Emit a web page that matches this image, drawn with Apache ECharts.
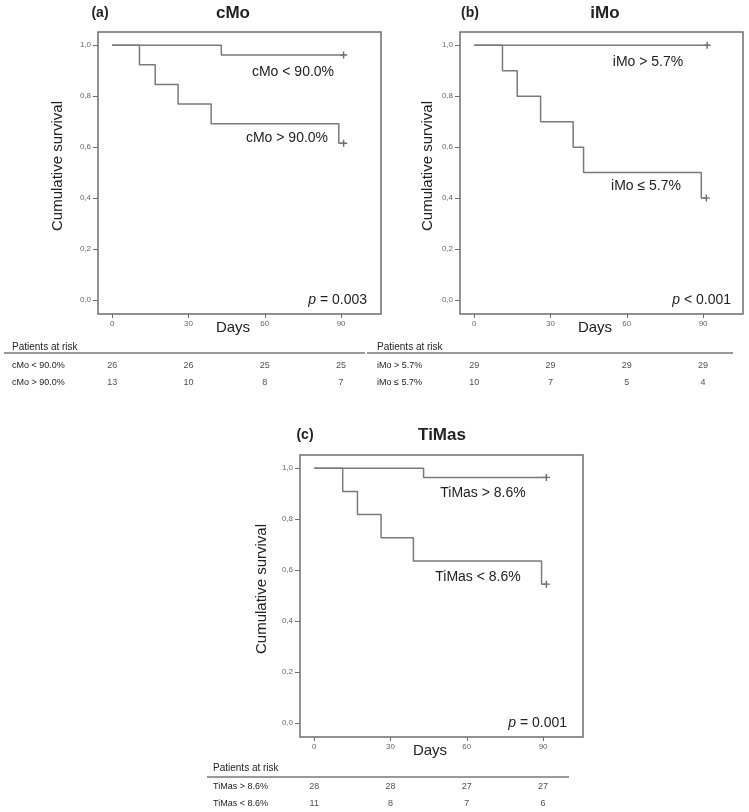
<!DOCTYPE html>
<html><head><meta charset="utf-8">
<script src="https://cdn.jsdelivr.net/npm/echarts@6/dist/echarts.min.js"></script>
<style>html,body{margin:0;padding:0;background:#fff}#c{width:749px;height:812px}</style>
</head><body><div id="c"></div>
<script>
// ---- data ----
const riskDays = [0, 30, 60, 90];
const yTicks = [0, 0.2, 0.4, 0.6, 0.8, 1.0];

const cMoLowT = [0, 42.9, 91];
const cMoLowS = [1, 0.9615, 0.9615];
const cMoHighT = [0, 10.7, 16.9, 25.9, 38.9, 89.1, 91];
const cMoHighS = [1, 0.923, 0.846, 0.769, 0.692, 0.615, 0.615];

const iMoHighT = [0, 91.6];
const iMoHighS = [1, 1];
const iMoLowT = [0, 11.1, 16.9, 26.1, 38.9, 43, 89.3, 91.3];
const iMoLowS = [1, 0.9, 0.8, 0.7, 0.6, 0.5, 0.4, 0.4];

const tiHighT = [0, 43, 91.3];
const tiHighS = [1, 0.964, 0.964];
const tiLowT = [0, 11.2, 17, 26.3, 39, 89.4, 91.3];
const tiLowS = [1, 0.909, 0.818, 0.727, 0.636, 0.545, 0.545];

const riskLabelsA = ['cMo < 90.0%', 'cMo > 90.0%'];
const riskA1 = [26, 26, 25, 25];
const riskA2 = [13, 10, 8, 7];
const riskLabelsB = ['iMo > 5.7%', 'iMo \u2264 5.7%'];
const riskB1 = [29, 29, 29, 29];
const riskB2 = [10, 7, 5, 4];
const riskLabelsC = ['TiMas > 8.6%', 'TiMas < 8.6%'];
const riskC1 = [28, 28, 27, 27];
const riskC2 = [11, 8, 7, 6];

// ---- styling ----
const FONT = 'Liberation Sans, Arial, sans-serif';
const LINE = '#7a7a7a';
const FRAME = '#6e6e6e';
const TXT = '#222';
const XMIN = -5.6, XMAX = 105.7, YMIN = -0.055, YMAX = 1.052;

const panels = [
  {left: 98, top: 32, riskTop: 357, margin: 86, labels: riskLabelsA, r1: riskA1, r2: riskA2,
   curves: [[cMoLowT, cMoLowS], [cMoHighT, cMoHighS]]},
  {left: 460, top: 32, riskTop: 357, margin: 83, labels: riskLabelsB, r1: riskB1, r2: riskB2,
   curves: [[iMoHighT, iMoHighS], [iMoLowT, iMoLowS]]},
  {left: 300, top: 455, riskTop: 778, margin: 87, labels: riskLabelsC, r1: riskC1, r2: riskC2,
   curves: [[tiHighT, tiHighS], [tiLowT, tiLowS]]}
];

const grid = [], xAxis = [], yAxis = [], series = [];
const plus = 'path://M4,0h2v10h-2z M0,4h10v2h-10z';
panels.forEach((p, k) => {
  grid.push({left: p.left, top: p.top, width: 283, height: 282, show: true,
             borderColor: FRAME, borderWidth: 1.5, backgroundColor: 'transparent'});
  grid.push({left: p.left, top: p.riskTop, width: 283, height: 34});
  xAxis.push({type: 'value', gridIndex: 2 * k, min: XMIN, max: XMAX,
    axisLine: {show: false, onZero: false}, splitLine: {show: false},
    axisTick: {show: true, customValues: riskDays, length: 4, lineStyle: {color: FRAME}},
    axisLabel: {show: true, customValues: riskDays, fontSize: 8, color: '#666', margin: 6, fontFamily: FONT}});
  yAxis.push({type: 'value', gridIndex: 2 * k, min: YMIN, max: YMAX,
    axisLine: {show: false, onZero: false}, splitLine: {show: false},
    axisTick: {show: true, customValues: yTicks, length: 5, lineStyle: {color: FRAME}},
    axisLabel: {show: true, customValues: yTicks, fontSize: 8, color: '#666', margin: 7, fontFamily: FONT,
      formatter: v => v.toFixed(1).replace('.', ',')}});
  xAxis.push({type: 'value', gridIndex: 2 * k + 1, min: XMIN, max: XMAX, show: false});
  yAxis.push({type: 'category', gridIndex: 2 * k + 1, data: p.labels, inverse: true,
    axisLine: {show: false, onZero: false}, axisTick: {show: false}, splitLine: {show: false},
    axisLabel: {align: 'left', margin: p.margin, fontSize: 9, color: TXT, fontFamily: FONT}});

  p.curves.forEach(([T, S]) => {
    series.push({type: 'line', xAxisIndex: 2 * k, yAxisIndex: 2 * k, step: 'end',
      data: T.map((t, i) => [t, S[i]]), showSymbol: false, silent: true,
      lineStyle: {color: LINE, width: 1.5}});
    series.push({type: 'scatter', xAxisIndex: 2 * k, yAxisIndex: 2 * k, symbol: plus, symbolSize: 7,
      data: [[T[T.length - 1], S[S.length - 1]]], itemStyle: {color: '#444'}, silent: true});
  });
  [p.r1, p.r2].forEach((row, r) => {
    series.push({type: 'scatter', xAxisIndex: 2 * k + 1, yAxisIndex: 2 * k + 1, symbolSize: 1,
      itemStyle: {color: 'rgba(0,0,0,0)'}, silent: true,
      data: riskDays.map((d, i) => [d, r, row[i]]),
      label: {show: true, position: 'inside', formatter: q => String(q.value[2]),
              fontSize: 9, color: TXT, fontFamily: FONT}});
  });
});

function txt(x, y, text, size, opts) {
  return {type: 'text', x: x, y: y, silent: true,
    style: Object.assign({text: text, font: size + 'px ' + FONT, fill: TXT, align: 'center', verticalAlign: 'middle'}, opts || {})};
}
function btxt(x, y, text, size) {
  return {type: 'text', x: x, y: y, silent: true,
    style: {text: text, font: 'bold ' + size + 'px ' + FONT, fill: TXT, align: 'center', verticalAlign: 'middle'}};
}
function vtxt(x, y, text) {
  const t = txt(x, y, text, 15);
  t.rotation = Math.PI / 2;
  return t;
}
function pval(x, y, rest) {
  return {type: 'text', x: x, y: y, silent: true,
    style: {text: '{i|p} ' + rest, align: 'right', verticalAlign: 'middle', font: '14px ' + FONT, fill: TXT,
      rich: {i: {fontStyle: 'italic', fontSize: 14, fontFamily: FONT, fill: TXT}}}};
}
function hline(x1, x2, y) {
  return {type: 'line', silent: true, shape: {x1: x1, y1: y, x2: x2, y2: y}, style: {stroke: '#777', lineWidth: 1.5}};
}
const graphic = [
  btxt(100, 13, '(a)', 14), btxt(233, 13, 'cMo', 17),
  vtxt(58, 166, 'Cumulative survival'),
  txt(233, 328, 'Days', 15),
  txt(293, 72, 'cMo < 90.0%', 14),
  txt(287, 138, 'cMo > 90.0%', 14),
  pval(367, 300, '= 0.003'),
  txt(12, 347, 'Patients at risk', 10, {align: 'left'}),
  hline(4, 365, 353),

  btxt(470, 13, '(b)', 14), btxt(605, 13, 'iMo', 17),
  vtxt(428, 166, 'Cumulative survival'),
  txt(595, 328, 'Days', 15),
  txt(648, 62, 'iMo > 5.7%', 14),
  txt(646, 186, 'iMo \u2264 5.7%', 14),
  pval(731, 300, '< 0.001'),
  txt(377, 347, 'Patients at risk', 10, {align: 'left'}),
  hline(367, 733, 353),

  btxt(305, 435, '(c)', 14), btxt(442, 435, 'TiMas', 17),
  vtxt(262, 589, 'Cumulative survival'),
  txt(430, 751, 'Days', 15),
  txt(483, 493, 'TiMas > 8.6%', 14),
  txt(478, 577, 'TiMas < 8.6%', 14),
  pval(567, 723, '= 0.001'),
  txt(213, 768, 'Patients at risk', 10, {align: 'left'}),
  hline(207, 569, 777)
];

const chart = echarts.init(document.getElementById('c'), null, {renderer: 'canvas'});
chart.setOption({animation: false, backgroundColor: '#fff', grid, xAxis, yAxis, series, graphic});
</script></body></html>
